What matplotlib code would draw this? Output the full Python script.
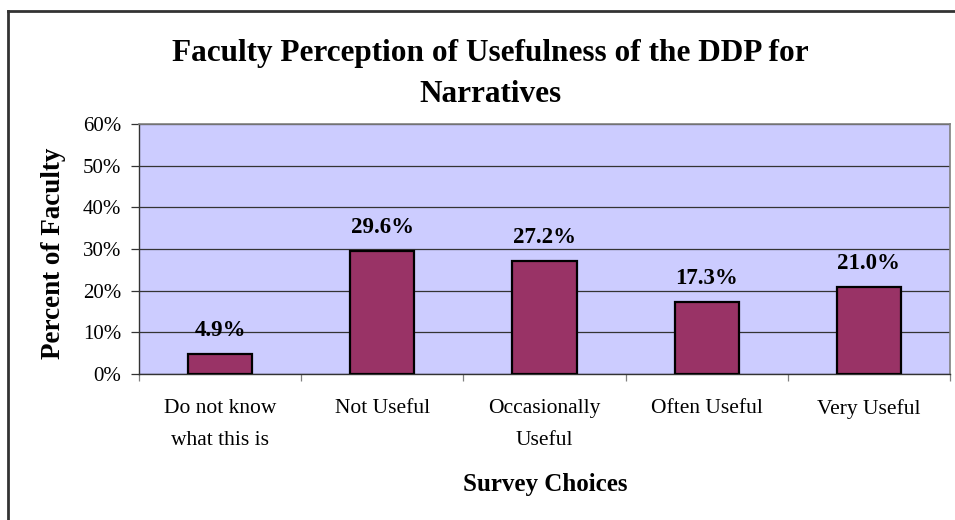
import numpy as np
import matplotlib
matplotlib.use("Agg")
import matplotlib.pyplot as plt
from matplotlib.lines import Line2D

choices = ["Do not know\nwhat this is", "Not Useful", "Occasionally\nUseful",
           "Often Useful", "Very Useful"]
percent = [4.9, 29.6, 27.2, 17.3, 21.0]
yticks = [0, 10, 20, 30, 40, 50, 60]

plt.rcParams["font.family"] = ["Liberation Serif", "DejaVu Serif"]

W, H = 955, 520
fig = plt.figure(figsize=(W / 100, H / 100), dpi=100)

# chart frame (only top and left edges are inside the canvas)
fig.add_artist(Line2D([8 / W, 8 / W], [0, 1 - 11 / H], transform=fig.transFigure,
                      color="#333333", lw=2.0))
fig.add_artist(Line2D([8 / W, 1], [1 - 11 / H, 1 - 11 / H], transform=fig.transFigure,
                      color="#333333", lw=2.0))

left, right, top, bottom = 139, 950, 124, 374
ax = fig.add_axes([left / W, 1 - bottom / H, (right - left) / W, (bottom - top) / H])
ax.set_facecolor("#CCCCFF")

x = np.arange(len(choices))
ax.bar(x, percent, width=0.395, color="#993366", edgecolor="black", linewidth=1.6,
       zorder=3)
for xi, v in zip(x, percent):
    ax.text(xi, v + 5.5, f"{v:.1f}%", ha="center", va="center", fontsize=16.5,
            fontweight="bold", zorder=4)

ax.set_xlim(-0.5, len(choices) - 0.5)
ax.set_ylim(0, 60)
ax.set_yticks(yticks)
ax.set_yticklabels([f"{t}%" for t in yticks], fontsize=15)
ax.yaxis.grid(True, color="#333333", lw=0.9, zorder=1)
ax.tick_params(axis="y", length=6, width=0.9, color="#333333", pad=7)

ax.set_xticks(x)
ax.set_xticklabels(choices, fontsize=15.5, linespacing=1.95, va="top")
ax.set_xticks(np.arange(-0.5, len(choices), 1.0), minor=True)
ax.tick_params(axis="x", which="major", length=0, pad=18)
ax.tick_params(axis="x", which="minor", length=5, width=0.9, color="#808080")

for side in ["top", "right"]:
    ax.spines[side].set_color("#808080")
    ax.spines[side].set_linewidth(1.2)
for side in ["left", "bottom"]:
    ax.spines[side].set_color("#333333")
    ax.spines[side].set_linewidth(1.0)

fig.text(490 / W, 1 - 61 / H, "Faculty Perception of Usefulness of the DDP for",
         ha="center", va="baseline", fontsize=22.5, fontweight="bold")
fig.text(490 / W, 1 - 102 / H, "Narratives", ha="center", va="baseline",
         fontsize=22.5, fontweight="bold")
fig.text(53 / W, 1 - 253 / H, "Percent of Faculty", rotation=90, ha="center",
         va="center", fontsize=19.5, fontweight="bold")
fig.text(545 / W, 1 - 491 / H, "Survey Choices", ha="center", va="baseline",
         fontsize=18, fontweight="bold")

fig.savefig("out.png", dpi=100)
